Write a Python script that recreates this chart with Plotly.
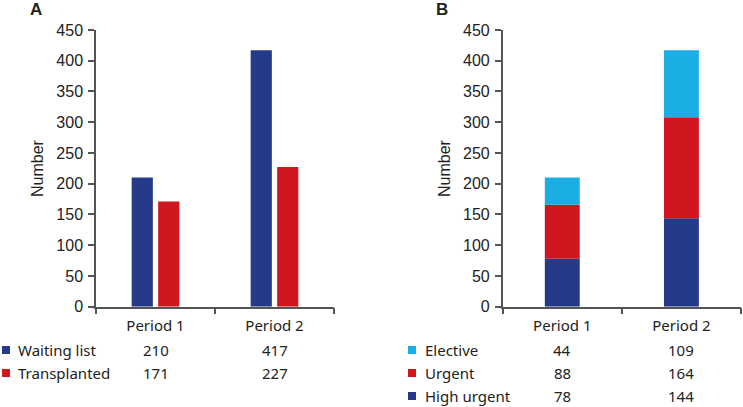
import plotly.graph_objects as go

periods = ["Period 1", "Period 2"]

# Panel A
waiting_list = [210, 417]
transplanted = [171, 227]

# Panel B
high_urgent = [78, 144]
urgent = [88, 164]
elective = [44, 109]

C_BLUE = "#263a8a"
C_RED = "#d0171f"
C_LBLUE = "#1aaee5"

W, H = 743, 407
TICK_FONT = dict(family="Liberation Sans, Arial", size=16, color="#222")
CAT_FONT = dict(family="Noto Sans", size=15, color="#222")
AXC = "#555"

fig = go.Figure()

fig.add_trace(go.Bar(x=periods, y=waiting_list, name="Waiting list", marker_color=C_BLUE,
                     marker_line_width=0, xaxis="x", yaxis="y", offsetgroup="a1"))
fig.add_trace(go.Bar(x=periods, y=transplanted, name="Transplanted", marker_color=C_RED,
                     marker_line_width=0, xaxis="x", yaxis="y", offsetgroup="a2"))

base_u = high_urgent
base_e = [a + b for a, b in zip(high_urgent, urgent)]
for vals, base, name, col in [(high_urgent, [0, 0], "High urgent", C_BLUE),
                              (urgent, base_u, "Urgent", C_RED),
                              (elective, base_e, "Elective", C_LBLUE)]:
    fig.add_trace(go.Bar(x=periods, y=vals, base=base, name=name, marker_color=col,
                         marker_line_width=0, xaxis="x2", yaxis="y2", offsetgroup="b",
                         width=0.293))

def px(v):
    return v / W

def py(v):
    return 1 - v / H

y_dom = [py(306.7), py(30)]

common_x = dict(type="category", showline=True, linecolor=AXC, linewidth=1.5,
                ticks="outside", ticklen=6, tickcolor=AXC, tickwidth=1.5,
                tickson="boundaries", tickfont=CAT_FONT, showgrid=False,
                ticklabelstandoff=5,
                range=[-0.5, 1.5], fixedrange=True, automargin=False)
common_y = dict(range=[0, 450], dtick=50, showline=True, linecolor=AXC, linewidth=1.5,
                ticks="outside", ticklen=6, tickcolor=AXC, tickwidth=1.5,
                tickfont=TICK_FONT, showgrid=False, zeroline=False, domain=y_dom,
                ticklabelstandoff=2, fixedrange=True, automargin=False)

fig.update_layout(
    width=W, height=H, margin=dict(l=0, r=0, t=0, b=0, autoexpand=False),
    paper_bgcolor="white", plot_bgcolor="white",
    barmode="group", bargap=0.555, bargroupgap=0.2, showlegend=False,
    xaxis=dict(common_x, domain=[px(96), px(334)], anchor="y"),
    yaxis=dict(common_y, anchor="x"),
    xaxis2=dict(common_x, domain=[px(502.7), px(741)], anchor="y2"),
    yaxis2=dict(common_y, anchor="x2"),
)

ann = []
shapes = []

def note(text, x, y, font, xref="paper", xanchor="center", **kw):
    ann.append(dict(text=text, x=x, y=y, xref=xref, yref="paper", xanchor=xanchor,
                    yanchor="middle", showarrow=False, font=font, **kw))

LETTER_FONT = dict(family="Liberation Sans, Arial", size=17, color="#222")
# panel letters
note("<b>A</b>", px(36), py(10), LETTER_FONT)
note("<b>B</b>", px(442), py(9), LETTER_FONT)
# y titles
for xp in (37, 444):
    note("Number", px(xp), py(168), dict(family="Liberation Sans, Arial", size=16, color="#222"),
         textangle=-90)

# tables
table_a = [("Waiting list", waiting_list, C_BLUE, 350), ("Transplanted", transplanted, C_RED, 373)]
table_b = [("Elective", elective, C_LBLUE, 350), ("Urgent", urgent, C_RED, 373),
           ("High urgent", high_urgent, C_BLUE, 396)]

for rows, xr, sq_x, txt_x in [(table_a, "x", 2, 16), (table_b, "x2", 408, 423)]:
    for label, vals, col, yy in rows:
        shapes.append(dict(type="rect", xref="paper", yref="paper",
                           x0=px(sq_x), x1=px(sq_x + 8), y0=py(yy + 4), y1=py(yy - 4),
                           fillcolor=col, line=dict(width=0)))
        note(label, px(txt_x), py(yy), CAT_FONT, xanchor="left")
        for p, v in zip(periods, vals):
            note(str(v), p, py(yy), CAT_FONT, xref=xr)

fig.update_layout(annotations=ann, shapes=shapes)
fig.write_html("out.html", config={"displayModeBar": False},
               post_script="document.body.style.margin='0';document.body.style.overflow='hidden';")
